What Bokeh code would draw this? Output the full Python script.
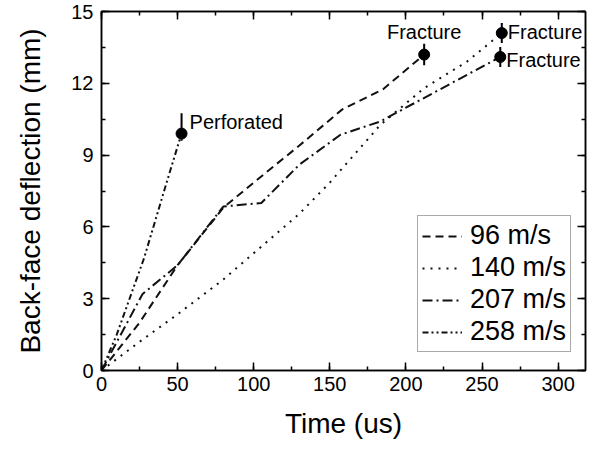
from bokeh.plotting import figure
from bokeh.models import (Range1d, LinearAxis, SingleIntervalTicker, Legend, LegendItem,
                          ColumnDataSource, CustomJSTickFormatter)
from bokeh.core.properties import value
from bokeh.embed import file_html
from bokeh.resources import INLINE

FONT = "Liberation Sans"

# ---- data ----
t_96 = [0, 25, 50, 80, 100, 130, 158, 185, 212]
d_96 = [0, 2.0, 4.4, 6.8, 7.85, 9.4, 10.9, 11.75, 13.2]

t_140 = [0, 25, 50, 80, 110, 130, 150, 183, 212, 240, 263]
d_140 = [0, 1.2, 2.35, 3.8, 5.45, 6.55, 7.85, 10.25, 11.8, 12.9, 14.1]

t_207 = [0, 27, 50, 80, 105, 130, 157, 183, 262]
d_207 = [0, 3.2, 4.4, 6.85, 7.0, 8.6, 9.85, 10.4, 13.1]

t_258 = [0, 10, 28, 43, 52.6]
d_258 = [0, 1.5, 4.7, 7.9, 9.9]

series_labels = ["96 m/s", "140 m/s", "207 m/s", "258 m/s"]

# end-point markers with error bars
end_t = [212, 263, 262, 52.6]
end_d = [13.2, 14.1, 13.1, 9.9]
err_lo = [0.45, 0.42, 0.42, 0.3]
err_hi = [0.45, 0.42, 0.42, 0.85]
end_text = ["Fracture", "Fracture", "Fracture", "Perforated"]

x_ticks_interval = 50
y_ticks_interval = 3

p = figure(width=597, height=450, output_backend="svg", toolbar_location=None,
           x_range=Range1d(0, 318), y_range=Range1d(0, 15),
           min_border_left=101, min_border_right=12, min_border_top=11,
           min_border_bottom=80, background_fill_color="white",
           border_fill_color="white")
p.grid.visible = False
p.outline_line_color = "black"
p.outline_line_width = 1.5

styles = [("8 5", 2), ("2 6", 2), ("10 4 2 4", 2), ("6 3 2 3 2 3", 2)]
data = [(t_96, d_96), (t_140, d_140), (t_207, d_207), (t_258, d_258)]
renderers = []
for (xs, ys), (dash, w) in zip(data, styles):
    r = p.line(xs, ys, line_color="#111111", line_width=w, line_dash=dash)
    renderers.append(r)

src = ColumnDataSource(dict(t=end_t, d=end_d,
                            lo=[d - e for d, e in zip(end_d, err_lo)],
                            hi=[d + e for d, e in zip(end_d, err_hi)],
                            txt=end_text))
p.segment(x0="t", y0="lo", x1="t", y1="hi", source=src, line_color="black", line_width=2)
p.scatter(x="t", y="d", source=src, size=11, fill_color="black", line_color="black")

# annotations
def label(i, align, xo, yo):
    p.text(x=[end_t[i]], y=[end_d[i]], text=[end_text[i]], text_font=value(FONT),
           text_font_size="20px", text_align=align, text_baseline="middle",
           x_offset=xo, y_offset=yo, text_color="black")

label(0, "center", 0, -23)
label(1, "left", 6, -1)
label(2, "left", 6, 3)
label(3, "left", 8, -12)

# axes
def style_axis(ax, interval, labels=True):
    ax.ticker = SingleIntervalTicker(interval=interval, num_minor_ticks=2)
    ax.major_tick_in = 8
    ax.major_tick_out = 0
    ax.minor_tick_in = 4
    ax.minor_tick_out = 0
    ax.axis_line_width = 1.5
    ax.major_tick_line_width = 1.5
    ax.minor_tick_line_width = 1.5
    ax.axis_line_color = "black"
    ax.major_tick_line_color = "black"
    ax.minor_tick_line_color = "black"
    ax.major_label_text_font = FONT
    ax.major_label_text_color = "black"
    if labels:
        ax.major_label_text_font_size = "20px"
    else:
        ax.formatter = CustomJSTickFormatter(code="return ''")
        ax.major_label_standoff = 0

xa = p.xaxis[0]
ya = p.yaxis[0]
style_axis(xa, x_ticks_interval)
style_axis(ya, y_ticks_interval)
xa.major_label_standoff = 6
ya.major_label_standoff = 8
xa.axis_label = "Time (us)"
ya.axis_label = "Back-face deflection (mm)"
for ax in (xa, ya):
    ax.axis_label_text_font = FONT
    ax.axis_label_text_font_size = "28px"
    ax.axis_label_text_font_style = "normal"
    ax.axis_label_text_color = "black"
xa.axis_label_standoff = 14
ya.axis_label_standoff = 22

top = LinearAxis()
style_axis(top, x_ticks_interval, labels=False)
p.add_layout(top, "above")
right = LinearAxis()
style_axis(right, y_ticks_interval, labels=False)
p.add_layout(right, "right")

legend = Legend(items=[LegendItem(label=l, renderers=[r]) for l, r in zip(series_labels, renderers)],
                location=(316, 18), label_text_font=FONT, label_text_font_size="27px",
                label_text_color="black",
                label_standoff=8, glyph_width=40, glyph_height=28, label_height=28,
                spacing=1, padding=4, margin=0, border_line_color="#555555",
                border_line_width=1, background_fill_alpha=1)
p.add_layout(legend, "center")

open("out.html", "w").write(file_html(p, INLINE))
